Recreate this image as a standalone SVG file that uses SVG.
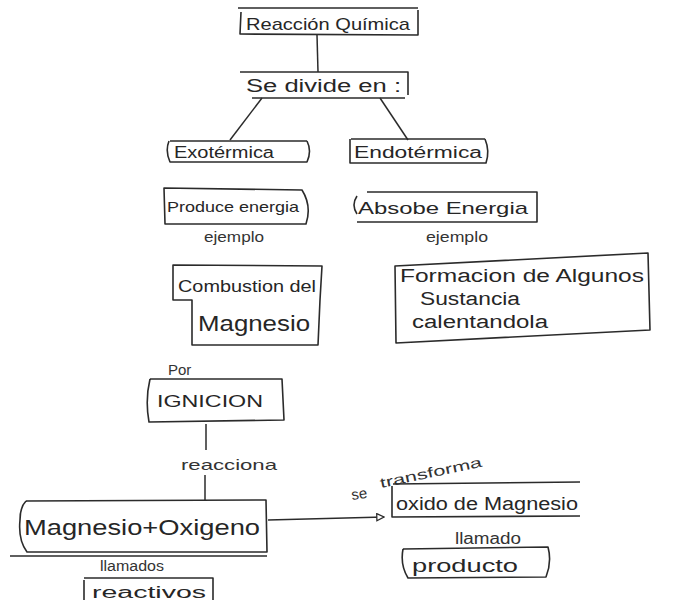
<svg xmlns="http://www.w3.org/2000/svg" width="673" height="600" viewBox="0 0 673 600">
  <defs>
    <style>
      .box { fill: none; stroke: #2b2b2b; stroke-width: 1.6; stroke-linejoin: round; }
      .edge { fill: none; stroke: #2b2b2b; stroke-width: 1.5; }
      .t { font-family: "Liberation Sans", "DejaVu Sans", sans-serif; fill: #262626; }
      .lbl { font-family: "Liberation Sans", "DejaVu Sans", sans-serif; fill: #333; }
    </style>
    <marker id="tri" viewBox="0 0 10 10" refX="9" refY="5" markerWidth="9" markerHeight="9" orient="auto" markerUnits="userSpaceOnUse">
      <path d="M1,1 L9,5 L1,9 Z" fill="#fff" stroke="#2b2b2b" stroke-width="1.4"/>
    </marker>
  </defs>
  <rect width="673" height="600" fill="#fff"/>

  <g id="connectors">
    <path class="edge" d="M317,35 L318,72"/>
    <path class="edge" d="M262,98 L230,140"/>
    <path class="edge" d="M380,98 L408,140"/>
    <path class="edge" d="M206,424 L206,450"/>
    <path class="edge" d="M205,475 L205,500"/>
    <path class="edge" d="M268,520 L384,517" marker-end="url(#tri)"/>
  </g>

  <g id="reaccion">
    <path class="box" d="M241,12 L240,34 L418,35 L418,10 M238,8 L418,8"/>
    <text class="t" x="246" y="30" font-size="17" textLength="164" lengthAdjust="spacingAndGlyphs">Reacción Química</text>
  </g>

  <g id="divide">
    <path class="box" d="M240,72 L408,72 L408,95 M252,98 L405,98"/>
    <text class="t" x="246" y="92" font-size="18" textLength="155" lengthAdjust="spacingAndGlyphs">Se divide en :</text>
  </g>

  <g id="exotermica">
    <path class="box" d="M170,141 L307,141 M169,141 Q165,151 170,162 L307,162 Q312,151 307,141"/>
    <text class="t" x="174" y="158" font-size="16" textLength="100" lengthAdjust="spacingAndGlyphs">Exotérmica</text>
  </g>

  <g id="endotermica">
    <path class="box" d="M351,139 L485,139 M350,139 L350,163 L486,163 Q490,151 485,139"/>
    <text class="t" x="354" y="158" font-size="16" textLength="128" lengthAdjust="spacingAndGlyphs">Endotérmica</text>
  </g>

  <g id="produce">
    <path class="box" d="M164,188 L302,190 Q312,206 306,224 L165,224 Z"/>
    <text class="t" x="167" y="212" font-size="15" textLength="132" lengthAdjust="spacingAndGlyphs">Produce energia</text>
  </g>

  <g id="absorbe">
    <path class="box" d="M367,192 L537,192 L537,222 L357,222 M357,196 Q351,205 357,214"/>
    <text class="t" x="358" y="214" font-size="17" textLength="170" lengthAdjust="spacingAndGlyphs">Absobe Energia</text>
  </g>

  <text class="lbl" x="204" y="242" font-size="15" textLength="60" lengthAdjust="spacingAndGlyphs">ejemplo</text>
  <text class="lbl" x="426" y="242" font-size="15" textLength="62" lengthAdjust="spacingAndGlyphs">ejemplo</text>

  <g id="combustion">
    <path class="box" d="M173,265 L322,266 L320,300 L318,345 L192,345 L192,300 L173,300 Z"/>
    <text class="t" x="178" y="292" font-size="17" textLength="138" lengthAdjust="spacingAndGlyphs">Combustion del</text>
    <text class="t" x="198" y="331" font-size="22" textLength="112" lengthAdjust="spacingAndGlyphs">Magnesio</text>
  </g>

  <g id="formacion">
    <path class="box" d="M395,266 L648,253 L650,330 L396,343 Z"/>
    <text class="t" x="400" y="282" font-size="18" textLength="244" lengthAdjust="spacingAndGlyphs">Formacion de Algunos</text>
    <text class="t" x="420" y="305" font-size="18" textLength="100" lengthAdjust="spacingAndGlyphs">Sustancia</text>
    <text class="t" x="412" y="328" font-size="18" textLength="136" lengthAdjust="spacingAndGlyphs">calentandola</text>
  </g>

  <text class="lbl" x="168" y="375" font-size="15">Por</text>

  <g id="ignicion">
    <path class="box" d="M150,379 L282,379 L284,420 L149,422 Q145,400 150,379"/>
    <text class="t" x="157" y="407" font-size="17" textLength="106" lengthAdjust="spacingAndGlyphs">IGNICION</text>
  </g>

  <text class="lbl" x="181" y="470" font-size="15" textLength="96" lengthAdjust="spacingAndGlyphs">reacciona</text>

  <g id="mgoxigeno">
    <path class="box" d="M26,501 L266,500 L267,552 L27,552 Q18,540 20,520 Q20,507 26,501 M10,556 L267,556"/>
    <text class="t" x="24" y="535" font-size="22" textLength="236" lengthAdjust="spacingAndGlyphs">Magnesio+Oxigeno</text>
  </g>

  <text class="lbl" x="100" y="571" font-size="14" textLength="64" lengthAdjust="spacingAndGlyphs">llamados</text>

  <g id="reactivos">
    <path class="box" d="M84,578 L213,578 L213,600 M84,580 L84,600"/>
    <text class="t" x="92" y="598" font-size="16" textLength="114" lengthAdjust="spacingAndGlyphs">reactivos</text>
  </g>

  <text class="lbl" x="352" y="500" font-size="15" transform="rotate(-8 352 500)">se</text>
  <text class="lbl" x="381" y="488" font-size="14" transform="rotate(-12 381 488)" textLength="104" lengthAdjust="spacingAndGlyphs">transforma</text>

  <g id="oxido">
    <path class="box" d="M393,484 L580,482 M392,486 L392,517 L580,516"/>
    <text class="t" x="396" y="510" font-size="18" textLength="182" lengthAdjust="spacingAndGlyphs">oxido de Magnesio</text>
  </g>

  <text class="lbl" x="455" y="544" font-size="16" textLength="66" lengthAdjust="spacingAndGlyphs">llamado</text>

  <g id="producto">
    <path class="box" d="M403,549 L548,547 Q552,562 546,577 L408,578 Q400,565 403,549"/>
    <text class="t" x="412" y="572" font-size="18" textLength="106" lengthAdjust="spacingAndGlyphs">producto</text>
  </g>
</svg>
